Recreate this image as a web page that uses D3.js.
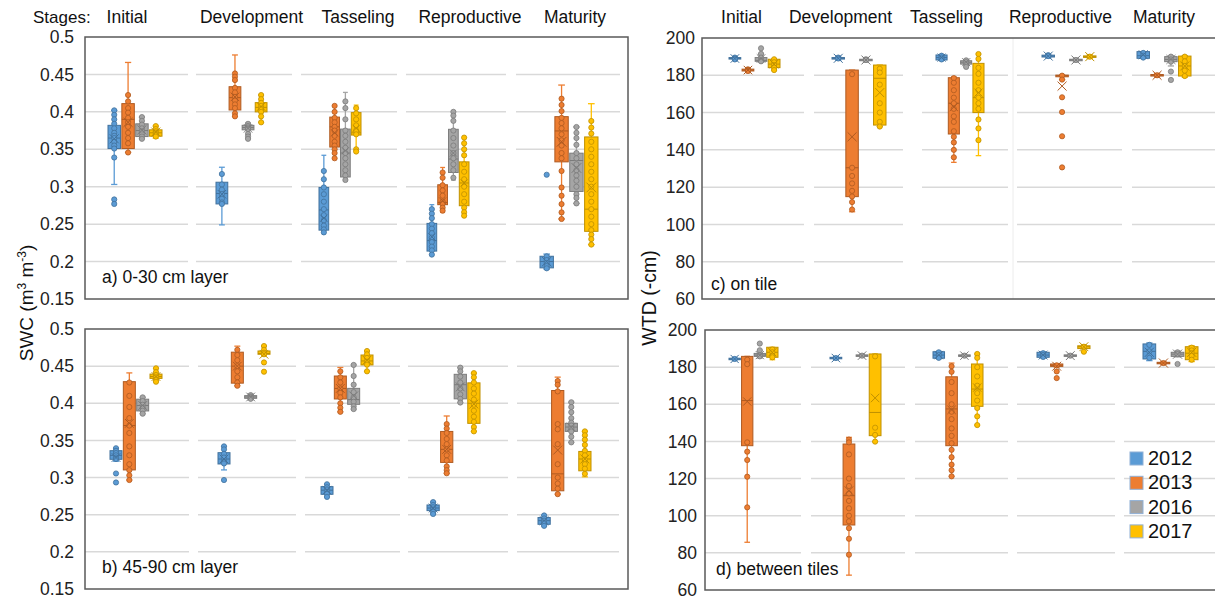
<!DOCTYPE html>
<html><head><meta charset="utf-8">
<script src="https://cdn.jsdelivr.net/npm/d3@7"></script>
<style>
body{margin:0;background:#fff}
svg{display:block}
svg text{font-family:'Liberation Sans',Arial,sans-serif;}
</style>
</head><body>
<svg id="chart" width="1215" height="602"></svg>
<script>
const FONT = "'Liberation Sans',Arial,sans-serif";
const stages = ["Initial","Development","Tasseling","Reproductive","Maturity"];
const years = ["2012","2013","2016","2017"];
const swcTicks = [0.15,0.2,0.25,0.3,0.35,0.4,0.45,0.5];
const swcTickLabels = ["0.15","0.2","0.25","0.3","0.35","0.4","0.45","0.5"];
const wtdTicks = [60,80,100,120,140,160,180,200];
const wtdTickLabels = ["60","80","100","120","140","160","180","200"];

// rows: [stage, year, whiskerLow, q1, median, q3, whiskerHigh, mean]
const swcTopStats = [
 [0,"2012",0.303,0.351,0.365,0.382,0.402,0.364],
 [0,"2013",0.346,0.351,0.390,0.411,0.466,0.386],
 [0,"2016",0.364,0.367,0.375,0.384,0.393,0.376],
 [0,"2017",0.365,0.3675,0.372,0.376,0.381,0.373],
 [1,"2012",0.249,0.277,0.291,0.306,0.326,0.290],
 [1,"2013",0.394,0.4025,0.419,0.4336,0.476,0.420],
 [1,"2016",0.364,0.376,0.379,0.382,0.385,0.378],
 [1,"2017",0.386,0.400,0.406,0.4123,0.4225,0.407],
 [2,"2012",0.239,0.242,0.269,0.299,0.342,0.258],
 [2,"2013",0.338,0.353,0.380,0.393,0.408,0.372],
 [2,"2016",0.309,0.313,0.345,0.377,0.426,0.348],
 [2,"2017",0.347,0.369,0.372,0.399,0.409,0.378],
 [3,"2012",0.2093,0.214,0.228,0.251,0.276,0.233],
 [3,"2013",0.2657,0.276,0.279,0.3026,0.3257,0.281],
 [3,"2016",0.3088,0.319,0.337,0.3767,0.400,0.345],
 [3,"2017",0.2613,0.2746,0.305,0.3332,0.3656,0.305],
 [4,"2012",0.190,0.1916,0.200,0.2071,0.210,0.200],
 [4,"2013",0.2569,0.3332,0.3745,0.3936,0.4358,0.360],
 [4,"2016",0.2777,0.2937,0.335,0.3448,0.3798,0.325],
 [4,"2017",0.2227,0.2404,0.270,0.3665,0.4109,0.299]
];
const swcTopPoints = [
 [0.402,0.396,0.39,0.384,0.378,0.372,0.368,0.365,0.36,0.355,0.351,0.339,0.283,0.277],
 [0.4225,0.414,0.405,0.399,0.392,0.386,0.38,0.372,0.365,0.358,0.3457],
 [0.393,0.388,0.383,0.378,0.374,0.37,0.367,0.364],
 [0.381,0.377,0.374,0.372,0.37,0.367],
 [0.317,0.303,0.296,0.29,0.284,0.279,0.277],
 [0.4513,0.447,0.4425,0.432,0.426,0.42,0.415,0.41,0.405,0.398,0.394],
 [0.384,0.381,0.379,0.377,0.3705,0.367,0.364],
 [0.4225,0.417,0.412,0.408,0.404,0.4,0.394,0.386],
 [0.321,0.31,0.299,0.29,0.28,0.27,0.262,0.255,0.248,0.243,0.239],
 [0.408,0.4,0.392,0.386,0.38,0.375,0.368,0.36,0.355,0.35,0.345,0.338],
 [0.414,0.405,0.39,0.375,0.368,0.36,0.352,0.345,0.338,0.33,0.322,0.315,0.309],
 [0.405,0.398,0.39,0.382,0.375,0.37,0.35,0.347],
 [0.27,0.264,0.258,0.25,0.244,0.238,0.232,0.226,0.22,0.215,0.2093],
 [0.319,0.312,0.302,0.295,0.288,0.28,0.277,0.272,0.268],
 [0.4,0.395,0.388,0.375,0.365,0.355,0.345,0.338,0.33,0.322,0.312],
 [0.3656,0.358,0.35,0.342,0.33,0.32,0.31,0.3,0.29,0.28,0.272,0.266,0.2613],
 [0.207,0.202,0.198,0.194,0.191,0.316],
 [0.4176,0.4092,0.401,0.392,0.385,0.378,0.37,0.362,0.355,0.345,0.338,0.321,0.299,0.288,0.2768,0.2657,0.2569],
 [0.3798,0.372,0.365,0.356,0.345,0.338,0.33,0.322,0.315,0.308,0.3,0.29,0.285,0.2777],
 [0.3878,0.379,0.371,0.36,0.35,0.34,0.33,0.32,0.31,0.3,0.29,0.28,0.27,0.26,0.25,0.242,0.236,0.23,0.2227]
];

const swcDeepStats = [
 [0,"2012",0.322,0.3246,0.330,0.3362,0.3395,0.327],
 [0,"2013",0.2967,0.3103,0.370,0.4291,0.4409,0.373],
 [0,"2016",0.386,0.3897,0.397,0.4055,0.408,0.397],
 [0,"2017",0.429,0.4335,0.436,0.4393,0.4471,0.436],
 [1,"2012",0.3103,0.3183,0.325,0.3335,0.342,0.325],
 [1,"2013",0.4236,0.4271,0.450,0.4688,0.4769,0.450],
 [1,"2016",0.4055,0.4067,0.4085,0.4103,0.412,0.4085],
 [1,"2017",0.464,0.466,0.467,0.4704,0.4771,0.466],
 [2,"2012",0.274,0.2775,0.283,0.2878,0.291,0.283],
 [2,"2013",0.3885,0.4058,0.420,0.4367,0.4482,0.420],
 [2,"2016",0.3922,0.3986,0.405,0.4201,0.4516,0.410],
 [2,"2017",0.443,0.4516,0.457,0.465,0.4704,0.458],
 [3,"2012",0.251,0.2555,0.259,0.2631,0.267,0.259],
 [3,"2013",0.3058,0.3204,0.338,0.3621,0.3829,0.338],
 [3,"2016",0.401,0.406,0.425,0.439,0.448,0.422],
 [3,"2017",0.3622,0.373,0.400,0.4275,0.4406,0.399],
 [4,"2012",0.2349,0.2371,0.242,0.2462,0.2493,0.242],
 [4,"2013",0.2777,0.2822,0.305,0.4172,0.4352,0.337],
 [4,"2016",0.3474,0.3622,0.368,0.373,0.4014,0.368],
 [4,"2017",0.301,0.3091,0.325,0.3352,0.3622,0.325]
];
const swcDeepPoints = [
 [0.3395,0.336,0.333,0.33,0.327,0.325,0.3055,0.2934],
 [0.428,0.41,0.395,0.38,0.37,0.36,0.342,0.33,0.318,0.31,0.303,0.2967],
 [0.408,0.403,0.398,0.394,0.39,0.386],
 [0.4471,0.442,0.438,0.435,0.432,0.429],
 [0.342,0.338,0.332,0.327,0.322,0.319,0.2967],
 [0.472,0.465,0.458,0.45,0.443,0.435,0.428,0.4236],
 [0.411,0.409,0.4075,0.406],
 [0.4771,0.472,0.468,0.466,0.455,0.4425],
 [0.291,0.287,0.284,0.281,0.278,0.274],
 [0.443,0.435,0.428,0.42,0.414,0.408,0.4,0.394,0.3885],
 [0.4516,0.4367,0.425,0.415,0.408,0.402,0.396,0.3922],
 [0.4704,0.466,0.461,0.456,0.452,0.443],
 [0.267,0.263,0.26,0.257,0.254,0.251],
 [0.372,0.366,0.36,0.352,0.345,0.338,0.33,0.323,0.315,0.31,0.3058],
 [0.448,0.443,0.436,0.428,0.42,0.412,0.406,0.401],
 [0.4406,0.435,0.428,0.42,0.413,0.405,0.398,0.39,0.382,0.375,0.368,0.3622],
 [0.249,0.245,0.242,0.239,0.235],
 [0.43,0.425,0.416,0.372,0.365,0.345,0.318,0.3,0.292,0.285,0.2777],
 [0.4014,0.395,0.388,0.38,0.374,0.37,0.366,0.362,0.355,0.3474],
 [0.3622,0.357,0.351,0.344,0.336,0.33,0.324,0.318,0.312,0.305]
];

const wtdOnStats = [
 [0,"2012",188,188.7,189,189.5,190,189],
 [0,"2013",181.5,182.3,182.8,183.3,184,182.8],
 [0,"2016",187,187.5,188,189.5,191.5,189],
 [0,"2017",182.8,184.1,186,188.6,188.8,186],
 [1,"2012",188,188.7,189.1,189.5,190.2,189.1],
 [1,"2013",106.8,114.9,130.4,182.8,182.8,147],
 [1,"2016",187,187.8,188.2,188.6,189.4,188.2],
 [1,"2017",152.5,153.3,178.4,185.5,185.5,170.7],
 [2,"2012",188,188.2,189.5,190.9,191,189.5],
 [2,"2013",133.3,148.5,165,178.7,179.2,163],
 [2,"2016",184.5,186,187,187.8,188.5,187],
 [2,"2017",136.9,160,168,186.4,191.4,170.7],
 [3,"2012",189.3,189.8,190.3,190.8,191.3,190.3],
 [3,"2013",177.7,179.2,179.8,180.1,180.1,174.2],
 [3,"2016",187.2,187.8,188.2,188.6,189.2,188.2],
 [3,"2017",189,189.6,190,190.4,191,190],
 [4,"2012",189.1,189.1,190.5,192.7,192.7,191],
 [4,"2013",179,179.6,180,180.4,181,180],
 [4,"2016",185,187.3,188.5,190,190.5,188.5],
 [4,"2017",179,179.6,185,190.3,190.5,185]
];
const wtdOnPoints = [
 [189.5,189,188.5],
 [183.2,182.8,182.3],
 [194.5,191.5,189.5,188,187.5],
 [188.6,187,185.5,184.1,182.8],
 [189.5,189],
 [180.6,130.4,126,122,118,115,112,108],
 [188.6,188.2],
 [183.5,181.5,175,165,160,155,152.5],
 [190.5,189.5,188.5],
 [178.5,176,172,168,165,162,158,155,150,147,144,140,136],
 [188,187,186,184.5],
 [191.4,188.8,184,180.8,176,172,168,165,162,156.3,151.5,145.2],
 [190.8,190.3],
 [179.8,177.7,168.2,160.3,147.3,130.6],
 [188.2],
 [190],
 [192,190.5,189.5],
 [180],
 [190,188.5,187.3,182,177.5],
 [190,187.5,185,182.5,179.6]
];

const wtdBetweenStats = [
 [0,"2012",183.6,184,184.4,184.8,185.2,184.4],
 [0,"2013",85.7,137.7,162,185.8,185.8,161.5],
 [0,"2016",185,185.8,186.5,187.4,189.1,186.5],
 [0,"2017",184,185.3,188,190.7,190.7,188],
 [1,"2012",184.1,184.5,184.9,185.3,185.7,184.9],
 [1,"2013",68,95,110.8,138.6,142.2,113.5],
 [1,"2016",185.4,185.8,186.2,186.6,187,186.2],
 [1,"2017",139.9,143.1,155.6,187.1,187.1,163.4],
 [2,"2012",184.5,184.8,186.5,188.3,188.5,186.5],
 [2,"2013",121.2,137.7,157.5,174.8,182.2,157],
 [2,"2016",185.4,185.8,186.2,186.6,187,186.2],
 [2,"2017",148.8,158.9,168.2,181.7,187.1,169],
 [3,"2012",185,185.3,186.5,188,188.3,186.5],
 [3,"2013",180,180.4,181,181.7,181.7,180.5],
 [3,"2016",185.4,185.8,186.2,186.6,187,186.2],
 [3,"2017",188.3,190,191,191.5,192,191],
 [4,"2012",183.5,184.4,188.5,192.5,193,188],
 [4,"2013",181.4,181.8,182.2,182.6,183,182.2],
 [4,"2016",185.5,185.8,187,188,188.5,187],
 [4,"2017",183,184,187.5,191,191.5,188]
];
const wtdBetweenPoints = [
 [184.4],
 [184,181.6,139.5,134.5,130,121,104.5],
 [192.7,189.1,186.5,185.8],
 [189.5,188,186,185.3],
 [184.9],
 [141,139.5,133,120,116,112,108,104,100,97,93.3,87.6,79],
 [186.2],
 [185.8,147.4,143.5,139.9],
 [188,186.5,185],
 [180.5,177.5,172,166,160,156,152,147,143,139,135.5,131.5,127.5,124.5,121.2],
 [186.2],
 [187.1,185,180,175,170,166,162,158,153.5,148.8],
 [187.5,186.5,185.5],
 [181,177.7,174.1],
 [186.2],
 [191,188.3],
 [192,188.5,185],
 [182.2],
 [188,187,181.7],
 [190.5,189,187.5,186,184]
];

const fillC = {"2012":"#5b9bd5","2013":"#ed7d31","2016":"#a5a5a5","2017":"#ffc000"};
const darkC = {"2012":"#41719c","2013":"#ae5a21","2016":"#7b7b7b","2017":"#bf9000"};

const svg = d3.select("#chart");

const panels = [
 {stats:swcTopStats, pts:swcTopPoints, ticks:swcTicks, labels:swcTickLabels, domain:[0.15,0.5],
  x0:85,x1:628,y0:37,y1:299,pad:11,
  segs:[[85,188],[196,292],[301,397],[406,506],[516,620]],
  groups:[[108,162],[216,267],[319,361],[427,469],[540,598]],
  title:"a) 0-30 cm layer", tx:102, ty:283},
 {stats:swcDeepStats, pts:swcDeepPoints, ticks:swcTicks, labels:swcTickLabels, domain:[0.15,0.5],
  x0:85,x1:628,y0:329,y1:589,pad:11,
  segs:[[85,189],[198,296],[305,400],[408,508],[517,619]],
  groups:[[110,162],[218,270],[321,373],[427,480],[538,591]],
  title:"b) 45-90 cm layer", tx:102, ty:573},
 {stats:wtdOnStats, pts:wtdOnPoints, ticks:wtdTicks, labels:wtdTickLabels, domain:[60,200],
  x0:702,x1:1235,y0:38,y1:299,pad:7,
  segs:[[702,804],[814,903],[922,1008],[1017,1122],[1132,1215]],
  groups:[[729,780],[832,886],[936,984],[1042,1096],[1137,1191]],
  title:"c) on tile", tx:711, ty:290, vline:1013},
 {stats:wtdBetweenStats, pts:wtdBetweenPoints, ticks:wtdTicks, labels:wtdTickLabels, domain:[60,200],
  x0:705,x1:1235,y0:330,y1:590,pad:8,
  segs:[[705,801],[811,905],[915,1008],[1017,1115],[1124,1215]],
  groups:[[729,778],[830,881],[933,983],[1037,1090],[1143,1198]],
  title:"d) between tiles", tx:716, ty:575}
];

panels.forEach(p => {
  const y = d3.scaleLinear().domain(p.domain).range([p.y1, p.y0]);
  const g = svg.append("g");
  const inner = p.ticks.slice(1, -1);
  p.segs.forEach(s => {
    g.append("g").selectAll("line").data(inner).join("line")
      .attr("x1", s[0]).attr("x2", s[1])
      .attr("y1", d => y(d)).attr("y2", d => y(d))
      .attr("stroke", "#d9d9d9").attr("stroke-width", 1.5);
  });
  if (p.vline) {
    g.append("line").attr("x1", p.vline).attr("x2", p.vline)
      .attr("y1", p.y0).attr("y2", p.y1).attr("stroke", "#ececec").attr("stroke-width", 1);
  }
  g.append("rect").attr("x", p.x0).attr("y", p.y0)
    .attr("width", p.x1 - p.x0).attr("height", p.y1 - p.y0)
    .attr("fill", "none").attr("stroke", "#5a5a5a").attr("stroke-width", 1.5);

  const axis = d3.axisLeft(y).tickValues(p.ticks)
    .tickFormat((d, i) => p.labels[i]).tickSize(0).tickPadding(p.pad);
  const ag = g.append("g").attr("transform", `translate(${p.x0},0)`).call(axis);
  ag.attr("font-family", FONT).attr("font-size", 17.5);
  ag.select(".domain").remove();
  ag.selectAll("text").attr("fill", "#222");

  const bands = p.groups.map(r => d3.scaleBand().domain(years).range(r).paddingInner(0.1));

  p.stats.forEach((r, i) => {
    const [st, yr, lo, q1, med, q3, hi, mean] = r;
    const b = bands[st];
    const bw = b.bandwidth();
    const cx = b(yr) + bw / 2;
    const col = fillC[yr], dk = darkC[yr];
    const bg = g.append("g");
    bg.append("line").attr("x1", cx).attr("x2", cx).attr("y1", y(hi)).attr("y2", y(q3))
      .attr("stroke", col).attr("stroke-width", 1.3);
    bg.append("line").attr("x1", cx).attr("x2", cx).attr("y1", y(q1)).attr("y2", y(lo))
      .attr("stroke", col).attr("stroke-width", 1.3);
    const cw = bw * 0.25;
    [lo, hi].forEach(v => bg.append("line").attr("x1", cx - cw).attr("x2", cx + cw)
      .attr("y1", y(v)).attr("y2", y(v)).attr("stroke", col).attr("stroke-width", 1.3));
    bg.append("rect").attr("x", cx - bw / 2).attr("y", y(q3))
      .attr("width", bw).attr("height", Math.max(1, y(q1) - y(q3)))
      .attr("fill", col).attr("stroke", dk).attr("stroke-width", 1);
    bg.append("line").attr("x1", cx - bw / 2).attr("x2", cx + bw / 2)
      .attr("y1", y(med)).attr("y2", y(med)).attr("stroke", dk).attr("stroke-width", 1);
    bg.selectAll("circle").data(p.pts[i]).join("circle")
      .attr("cx", cx).attr("cy", d => y(d)).attr("r", 2.6)
      .attr("fill", col).attr("stroke", dk).attr("stroke-width", 0.8);
    const s = bw * 0.36;
    const my = y(mean);
    bg.append("path")
      .attr("d", `M${cx - s},${my - s}L${cx + s},${my + s}M${cx - s},${my + s}L${cx + s},${my - s}`)
      .attr("stroke", dk).attr("stroke-width", 1).attr("fill", "none");
  });

  g.append("text").attr("x", p.tx).attr("y", p.ty).attr("font-size", 17.5)
    .attr("font-family", FONT).attr("fill", "#111").text(p.title);
});

const headY = 22.5;
const stageXLeft = [127, 251.5, 358, 470, 575];
const stageXRight = [741.5, 840.5, 946.5, 1060.5, 1164];
svg.append("text").attr("x", 33).attr("y", headY).attr("font-size", 17)
  .attr("font-family", FONT).attr("fill", "#111").text("Stages:");
svg.append("g").selectAll("text").data(stages).join("text")
  .attr("x", (d, i) => stageXLeft[i]).attr("y", headY).attr("text-anchor", "middle")
  .attr("font-family", FONT).attr("font-size", 17.5).attr("fill", "#111").text(d => d);
svg.append("g").selectAll("text").data(stages).join("text")
  .attr("x", (d, i) => stageXRight[i]).attr("y", headY).attr("text-anchor", "middle")
  .attr("font-family", FONT).attr("font-size", 17.5).attr("fill", "#111").text(d => d);

const t1 = svg.append("text").attr("transform", "translate(33,303) rotate(-90)")
  .attr("text-anchor", "middle").attr("font-size", 19).attr("font-family", FONT).attr("fill", "#111");
t1.append("tspan").text("SWC  (m");
t1.append("tspan").attr("baseline-shift", "super").attr("font-size", 12).text("3");
t1.append("tspan").text(" m");
t1.append("tspan").attr("baseline-shift", "super").attr("font-size", 12).text("-3");
t1.append("tspan").text(")");

svg.append("text").attr("transform", "translate(656,298) rotate(-90)")
  .attr("text-anchor", "middle").attr("font-size", 19.5).attr("font-family", FONT)
  .attr("fill", "#111").text("WTD  (-cm)");

const lg = svg.append("g").selectAll("g").data(years).join("g")
  .attr("transform", (d, i) => `translate(1130,${452 + i * 24.3})`);
lg.append("rect").attr("width", 13).attr("height", 13)
  .attr("fill", d => fillC[d]).attr("stroke", "#8fb0d6").attr("stroke-width", 1);
lg.append("text").attr("x", 18).attr("y", 13).attr("font-size", 20).attr("font-family", FONT)
  .attr("fill", "#111").text(d => d);
</script>
</body></html>
